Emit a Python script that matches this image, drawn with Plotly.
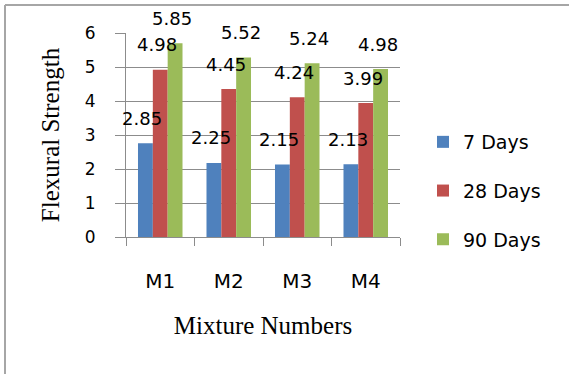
import plotly.graph_objects as go

categories = ["M1", "M2", "M3", "M4"]
series_names = ["7 Days", "28 Days", "90 Days"]
days7 = [2.76, 2.18, 2.13, 2.14]
days28 = [4.92, 4.35, 4.11, 3.94]
days90 = [5.70, 5.28, 5.11, 4.94]
labels7 = ["2.85", "2.25", "2.15", "2.13"]
labels28 = ["4.98", "4.45", "4.24", "3.99"]
labels90 = ["5.85", "5.52", "5.24", "4.98"]
y_ticks = [0, 1, 2, 3, 4, 5, 6]

colors = ["#4F81BD", "#C0504D", "#9BBB59"]
values = [days7, days28, days90]
labels = [labels7, labels28, labels90]

W, H = 569, 374
L, R, T, B = 126, 169, 33, 137
plot_w = W - L - R
bargap = 0.35
cat_w = plot_w / len(categories)
bar_w = cat_w * (1 - bargap) / 3

fig = go.Figure()
for i, (name, vals) in enumerate(zip(series_names, values)):
    fig.add_trace(go.Bar(
        x=categories, y=vals, name=name, marker_color=colors[i],
        marker_line_width=0, legendgroup=name,
    ))

annotations = []
for i, (vals, labs) in enumerate(zip(values, labels)):
    xshift = (i - 1) * bar_w - 3
    for c, v, t in zip(categories, vals, labs):
        annotations.append(dict(
            x=c, y=v, text=t, showarrow=False, xshift=xshift, yshift=25,
            font=dict(family="DejaVu Sans", size=18, color="#000000"),
            xanchor="center", yanchor="middle",
        ))

def px_x(p):
    return (p - L) / plot_w

def px_y(p):
    return (H - B - p) / (H - T - B)

grey = "#8C8C8C"
shapes = [
    dict(type="line", xref="paper", yref="paper", x0=px_x(5), x1=px_x(580),
         y0=px_y(5), y1=px_y(5), line=dict(color="#A6A6A6", width=2)),
    dict(type="line", xref="paper", yref="paper", x0=px_x(5), x1=px_x(5),
         y0=px_y(5), y1=px_y(390), line=dict(color="#A6A6A6", width=2)),
]

fig.update_layout(
    width=W, height=H,
    margin=dict(l=L, r=R, t=T, b=B, pad=0, autoexpand=False),
    paper_bgcolor="white", plot_bgcolor="white",
    barmode="group", bargap=bargap, bargroupgap=0,
    showlegend=True,
    legend=dict(
        x=px_x(423), y=px_y(191), xanchor="left", yanchor="middle",
        font=dict(family="DejaVu Sans", size=19, color="#000000"),
        tracegroupgap=21, traceorder="grouped", bgcolor="rgba(0,0,0,0)",
        itemwidth=30,
    ),
    annotations=annotations,
    shapes=shapes,
    xaxis=dict(
        type="category", range=[-0.5, len(categories) - 0.5],
        tickson="boundaries", ticks="outside", ticklen=8,
        tickcolor=grey, showline=True, linecolor=grey, linewidth=1,
        showgrid=False, ticklabelstandoff=26, automargin=False,
        tickfont=dict(family="DejaVu Sans", size=20, color="#000000"),
        title=dict(text="Mixture Numbers", standoff=24,
                   font=dict(family="Liberation Serif", size=25, color="#000000")),
    ),
    yaxis=dict(
        range=[0, 6], tickvals=y_ticks, ticks="outside", ticklen=10,
        tickcolor=grey, showgrid=True, gridcolor=grey, gridwidth=1,
        showline=True, linecolor=grey, linewidth=1, zeroline=False,
        ticklabelstandoff=16, automargin=False,
        tickfont=dict(family="DejaVu Sans", size=17, color="#000000"),
        title=dict(text="Flexural Strength", standoff=18,
                   font=dict(family="Liberation Serif", size=25, color="#000000")),
    ),
)

fig.write_html(
    "out.html",
    config={"displayModeBar": False},
    post_script="document.body.style.margin='0';document.body.style.overflow='hidden';",
)
